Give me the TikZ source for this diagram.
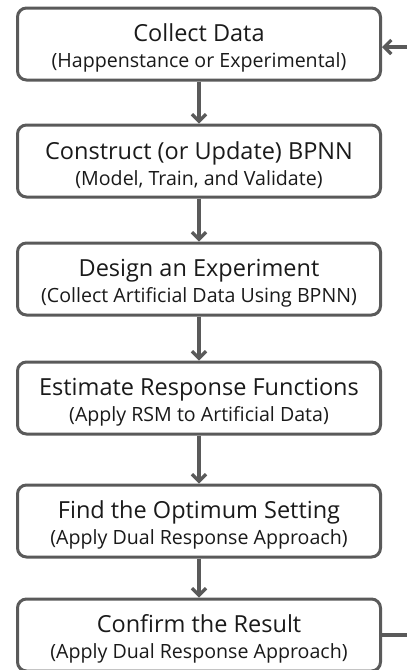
\documentclass[tikz,border=0pt]{standalone}
\usepackage{fontspec}
\setmainfont{Open Sans}
\usetikzlibrary{arrows.meta}
\definecolor{lc}{HTML}{5A5A5A}
\definecolor{tc}{HTML}{1A1A1A}
\tikzset{
  stepbox/.style={draw=lc, line width=3pt, rounded corners=9pt,
    minimum width=363pt, minimum height=72pt, inner sep=0pt,
    align=center, text=tc, fill=white,
    font=\fontsize{19.6}{26}\selectfont},
  flow/.style={draw=lc, line width=3.2pt,
    -{Straight Barb[length=7pt,width=14pt]}},
  feed/.style={draw=lc, line width=3.2pt},
}
\newcommand\mytitle[1]{{\fontsize{23.5}{26}\selectfont\rule{0pt}{26pt}#1}}
\begin{document}
\begin{tikzpicture}[x=1pt,y=-1pt]
\useasboundingbox (0,0) rectangle (407,670);
\node[stepbox] (b1) at (199,44)  {\mytitle{Collect Data}\\(Happenstance or Experimental)};
\node[stepbox] (b2) at (199,161) {\mytitle{Construct (or Update) BPNN}\\(Model, Train, and Validate)};
\node[stepbox] (b3) at (199,279) {\mytitle{Design an Experiment}\\(Collect Artificial Data Using BPNN)};
\node[stepbox] (b4) at (199,398) {\mytitle{Estimate Response Functions}\\(Apply RSM to Artificial Data)};
\node[stepbox] (b5) at (199,521) {\mytitle{Find the Optimum Setting}\\(Apply Dual Response Approach)};
\node[stepbox] (b6) at (199,635) {\mytitle{Confirm the Result}\\(Apply Dual Response Approach)};
\draw[flow] (b1) -- (b2);
\draw[flow] (b2) -- (b3);
\draw[flow] (b3) -- (b4);
\draw[flow] (b4) -- (b5);
\draw[flow] (b5) -- (b6);
\begin{scope}
\clip (0,0) rectangle (407,670);
\coordinate (fbBot) at (430,635);
\coordinate (fbTop) at (430,47);
\draw[feed] (b6.east) -- (fbBot) -- (fbTop);
\draw[flow] (fbTop) -- (b1.east |- fbTop);
\end{scope}
\end{tikzpicture}
\end{document}
